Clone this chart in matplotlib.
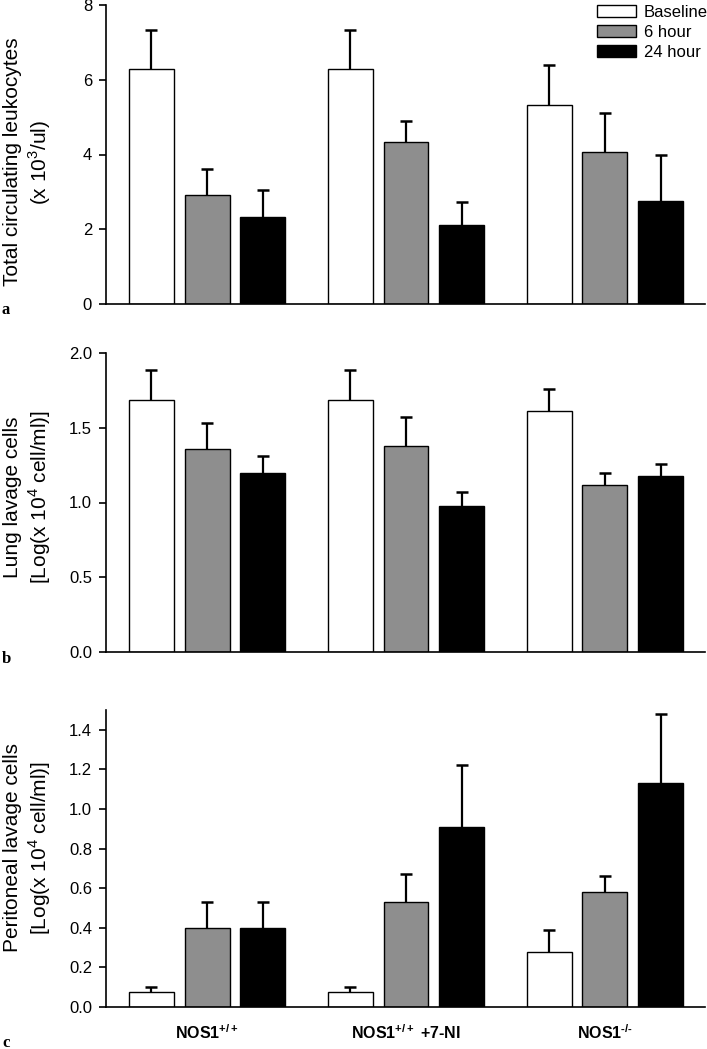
import numpy as np
import matplotlib
matplotlib.use("Agg")
import matplotlib.pyplot as plt
from matplotlib.patches import Patch

plt.rcParams["font.family"] = ["Liberation Sans", "DejaVu Sans"]
plt.rcParams["mathtext.fontset"] = "custom"
plt.rcParams["mathtext.rm"] = "Liberation Sans"
plt.rcParams["mathtext.bf"] = "Liberation Sans:bold"

groups = ["NOS1$^{\\mathbf{+/+}}$", "NOS1$^{\\mathbf{+/+}}$ +7-NI", "NOS1$^{\\mathbf{\u2010/\u2010}}$"]
series = ["Baseline", "6 hour", "24 hour"]
colors = ["white", "#8e8e8e", "black"]

# panel a: total circulating leukocytes (x 10^3/ul)
leuko_mean = [[6.3, 6.3, 5.32], [2.91, 4.33, 4.06], [2.33, 2.12, 2.75]]
leuko_err = [[1.03, 1.03, 1.08], [0.70, 0.56, 1.05], [0.72, 0.60, 1.25]]

# panel b: lung lavage cells
lung_mean = [[1.686, 1.686, 1.61], [1.36, 1.38, 1.12], [1.20, 0.975, 1.18]]
lung_err = [[0.20, 0.20, 0.15], [0.17, 0.19, 0.08], [0.11, 0.095, 0.08]]

# panel c: peritoneal lavage cells
perit_mean = [[0.075, 0.075, 0.277], [0.40, 0.53, 0.58], [0.40, 0.91, 1.13]]
perit_err = [[0.025, 0.025, 0.113], [0.13, 0.14, 0.08], [0.13, 0.31, 0.35]]

panels = [
    (leuko_mean, leuko_err, "Total circulating leukocytes\n(x 10$^3$/ul)",
     [0, 2, 4, 6, 8], ["0", "2", "4", "6", "8"], 8, "a"),
    (lung_mean, lung_err, "Lung lavage cells\n[Log(x 10$^4$ cell/ml)]",
     [0, 0.5, 1.0, 1.5, 2.0], ["0.0", "0.5", "1.0", "1.5", "2.0"], 2.0, "b"),
    (perit_mean, perit_err, "Peritoneal lavage cells\n[Log(x 10$^4$ cell/ml)]",
     [0, 0.2, 0.4, 0.6, 0.8, 1.0, 1.2, 1.4],
     ["0.0", "0.2", "0.4", "0.6", "0.8", "1.0", "1.2", "1.4"], 1.5, "c"),
]

W, H = 707, 1049
fig = plt.figure(figsize=(W / 100, H / 100), dpi=100)

boxes = [(5, 304), (353, 652), (710, 1007)]
label_y = [162, 497, 848]
letter_y = [314, 663, 1047]
left, right = 106, 705

x = np.arange(len(groups))
offset = 0.281
width = 0.226
cap = 0.03

for i, (means, errs, ylabel, ticks, ticklabels, ymax, letter) in enumerate(panels):
    top, bottom = boxes[i]
    ax = fig.add_axes([left / W, 1 - bottom / H, (right - left) / W, (bottom - top) / H])
    for j in range(3):
        xs = x + (j - 1) * offset
        m = np.array(means[j])
        tops = m + np.array(errs[j])
        ax.bar(xs, m, width=width, color=colors[j], edgecolor="black",
               linewidth=1.0, label=series[j], zorder=2)
        ax.vlines(xs, m, tops, color="black", linewidth=1.6, zorder=1)
        ax.hlines(tops, xs - cap, xs + cap, color="black", linewidth=1.8, zorder=1)
    ax.set_xlim(-0.508, 2.503)
    ax.set_ylim(0, ymax)
    ax.set_yticks(ticks)
    ax.set_yticklabels(ticklabels, fontsize=12)
    ax.spines["top"].set_visible(False)
    ax.spines["right"].set_visible(False)
    ax.spines["left"].set_linewidth(1.2)
    ax.spines["bottom"].set_linewidth(1.2)
    ax.tick_params(axis="y", direction="out", length=5, width=1.2, pad=5)
    fig.text(28 / W, 1 - label_y[i] / H, ylabel, fontsize=15, rotation=90,
             ha="center", va="center", linespacing=1.25, multialignment="center")
    if i == 2:
        ax.set_xticks(x)
        ax.set_xticklabels(groups, fontsize=11.5, fontweight="bold")
        ax.tick_params(axis="x", length=0, pad=12)
    else:
        ax.set_xticks([])
    fig.text(2 / W, 1 - letter_y[i] / H, letter, fontsize=12, fontweight="bold",
             family="Liberation Serif", va="baseline", ha="left")
    if i == 0:
        handles = [Patch(facecolor=c, edgecolor="black", linewidth=1.0) for c in colors]
        ax.legend(handles, series, loc="upper right", bbox_to_anchor=(1.03, 1.05),
                  frameon=False, fontsize=12, handlelength=2.3, handleheight=0.7,
                  handletextpad=0.5, labelspacing=0.3)

fig.savefig("out.png", dpi=100)
